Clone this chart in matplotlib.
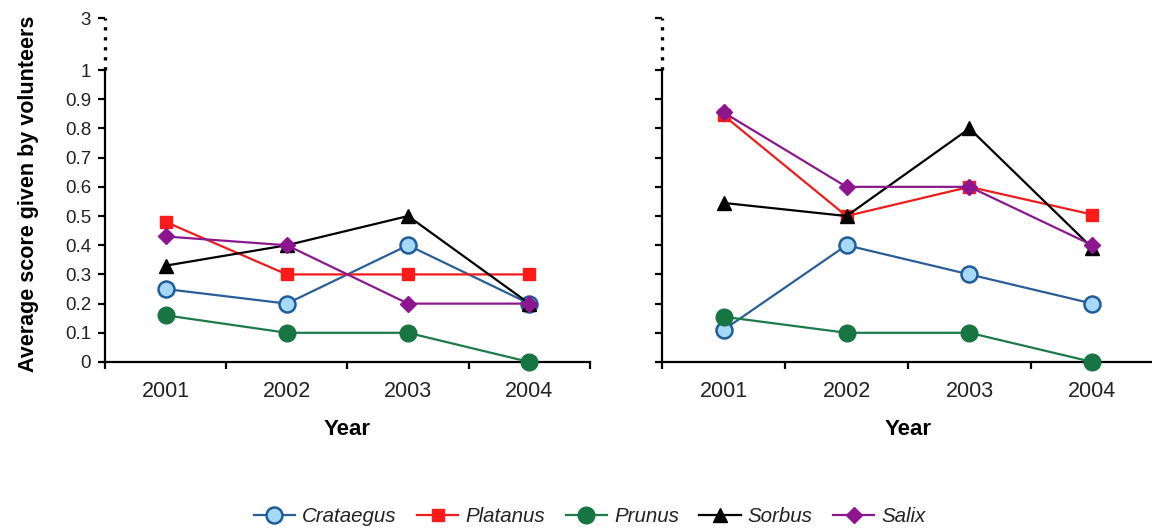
import numpy as np
import matplotlib
matplotlib.use("Agg")
import matplotlib.pyplot as plt

plt.rcParams['font.family'] = ['Liberation Sans', 'DejaVu Sans']

years = ['2001', '2002', '2003', '2004']
species = ['Crataegus', 'Platanus', 'Prunus', 'Sorbus', 'Salix']

# left panel
left_crataegus = [0.25, 0.2, 0.4, 0.2]
left_platanus = [0.48, 0.3, 0.3, 0.3]
left_prunus = [0.16, 0.1, 0.1, 0.0]
left_sorbus = [0.33, 0.4, 0.5, 0.2]
left_salix = [0.43, 0.4, 0.2, 0.2]

# right panel
right_crataegus = [0.11, 0.4, 0.3, 0.2]
right_platanus = [0.845, 0.5, 0.6, 0.505]
right_prunus = [0.155, 0.1, 0.1, 0.0]
right_sorbus = [0.545, 0.5, 0.8, 0.39]
right_salix = [0.855, 0.6, 0.6, 0.4]

yticks = [0, 0.1, 0.2, 0.3, 0.4, 0.5, 0.6, 0.7, 0.8, 0.9, 1]
ytick_labels = ['0', '0.1', '0.2', '0.3', '0.4', '0.5', '0.6', '0.7', '0.8', '0.9', '1']
break_label = '3'

styles = {
    'Crataegus': dict(color='#2b5d96', marker='o', ms=11.5, mfc='#a6d8f7', mec='#1f5c99', mew=1.8),
    'Platanus': dict(color='#ee1c1c', marker='s', ms=9, mfc='#ff1a1a', mec='#ff1a1a'),
    'Prunus': dict(color='#1d7a4a', marker='o', ms=12, mfc='#177543', mec='#177543'),
    'Sorbus': dict(color='#000000', marker='^', ms=10, mfc='#000000', mec='#000000'),
    'Salix': dict(color='#8a1a8c', marker='D', ms=8, mfc='#8e1590', mec='#8e1590'),
}

ytop = 1.178
fig = plt.figure(figsize=(11.52, 5.29), dpi=100)
ax1 = fig.add_axes([0.0911, 0.3157, 0.421, 0.650])
ax2 = fig.add_axes([0.5747, 0.3157, 0.427, 0.650])

x = np.arange(1, len(years) + 1)
panels = [
    (ax1, [left_crataegus, left_platanus, left_prunus, left_sorbus, left_salix]),
    (ax2, [right_crataegus, right_platanus, right_prunus, right_sorbus, right_salix]),
]

for ax, series in panels:
    for name, vals in zip(species, series):
        ax.plot(x, vals, lw=1.6, label=name, clip_on=False, zorder=3, **styles[name])
    ax.set_xlim(0.5, len(years) + 0.5)
    ax.set_ylim(0, ytop)
    for s in ['top', 'right']:
        ax.spines[s].set_visible(False)
    ax.spines['left'].set_bounds(0, 1)
    ax.spines['left'].set_linewidth(1.6)
    ax.spines['bottom'].set_linewidth(1.6)
    ax.vlines(0.5, 1, ytop, colors='black', linestyles=(0, (1.0, 2.0)), lw=2.4, clip_on=False)
    ax.set_yticks(yticks + [ytop])
    ax.tick_params(axis='y', direction='out', length=5, width=1.6, labelsize=13.5, pad=5,
                   labelcolor='#222222')
    # category boundaries as ticks, labels centred
    ax.set_xticks(np.arange(0.5, len(years) + 1.0, 1.0))
    ax.set_xticklabels([])
    ax.set_xticks(x, minor=True)
    ax.set_xticklabels(years, minor=True, fontsize=15.5, color='#222222')
    ax.tick_params(axis='x', which='major', direction='out', length=5, width=1.6)
    ax.tick_params(axis='x', which='minor', length=0, pad=14)
    ax.set_xlabel('Year', fontsize=16, fontweight='bold', labelpad=12)

ax1.set_yticklabels(ytick_labels + [break_label])
ax2.set_yticklabels([])
ax1.set_ylabel('Average score given by volunteers', fontsize=15.5, fontweight='bold')
ax1.yaxis.set_label_coords(-0.136, 0.49)

handles, labels = ax1.get_legend_handles_labels()
fig.legend(handles, labels, loc='center', bbox_to_anchor=(0.512, 0.023), ncol=5,
           frameon=False, prop={'style': 'italic', 'size': 14.8}, handlelength=2.0,
           handletextpad=0.35, columnspacing=1.0, labelcolor='#222222')

fig.savefig('out.png', dpi=100)
